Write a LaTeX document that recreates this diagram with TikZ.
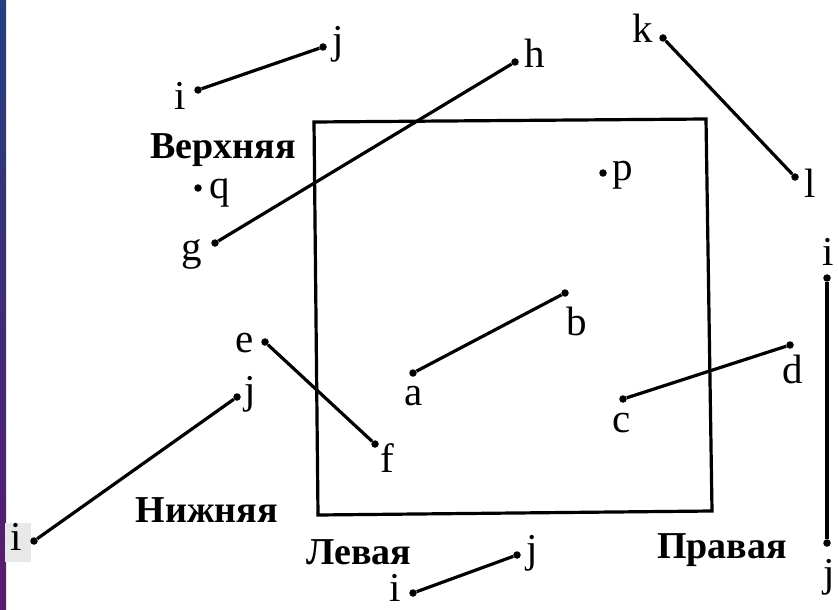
\documentclass[tikz,border=0pt]{standalone}
\usepackage{fontspec}
\setmainfont{Liberation Serif}
\usepackage{tikz}
\definecolor{slideA}{HTML}{23407F}
\definecolor{slideB}{HTML}{1E2260}
\definecolor{slideC}{HTML}{5B1A6E}
\begin{document}
\begin{tikzpicture}[x=1pt,y=-1pt,
  pnt/.style={circle,fill=black,inner sep=0,minimum size=7.5pt},
  seg/.style={line width=3.2pt},
  lbl/.style={anchor=base,inner sep=0,font=\fontsize{41}{41}\selectfont},
  word/.style={anchor=base,inner sep=0,font=\fontsize{38}{38}\selectfont\bfseries}]
  \useasboundingbox (0,0) rectangle (838,610);
  \shade[top color=slideA,middle color=slideB,bottom color=slideC] (0,0) rectangle (6,610);
  \fill[gray!18] (5,523) rectangle (31,562);
  % the window
  \draw[line width=3.2pt,line join=miter] (314,122) -- (706,119) -- (712,511) -- (318,515) -- cycle;
  % end points
  \node[pnt] (i1) at (198,90) {};
  \node[pnt] (j1) at (323,47) {};
  \node[pnt] (g) at (215,243) {};
  \node[pnt] (h) at (515,62) {};
  \node[pnt] (q) at (198,188) {};
  \node[pnt] (p) at (603,173) {};
  \node[pnt] (k) at (663,38) {};
  \node[pnt] (l) at (795,177) {};
  \node[pnt] (i4) at (827,278) {};
  \node[pnt] (j4) at (827,543) {};
  \node[pnt] (a) at (413,373) {};
  \node[pnt] (b) at (565,293) {};
  \node[pnt] (c) at (623,399) {};
  \node[pnt] (d) at (790,345) {};
  \node[pnt] (e) at (265,342) {};
  \node[pnt] (f) at (375,444) {};
  \node[pnt] (j2) at (237,397) {};
  \node[pnt] (i2) at (34,541) {};
  \node[pnt] (i3) at (413,593) {};
  \node[pnt] (j3) at (517,555) {};
  % segments
  \draw[seg] (i1) -- (j1);
  \draw[seg] (g) -- (h);
  \draw[seg] (k) -- (l);
  \draw[seg] (i4) -- (j4);
  \draw[seg] (a) -- (b);
  \draw[seg] (c) -- (d);
  \draw[seg] (e) -- (f);
  \draw[seg] (i2) -- (j2);
  \draw[seg] (i3) -- (j3);
  % letters
  \node[lbl] (li1) at (180,110) {i};
  \node[lbl] (lj1) at (338,54) {j};
  \node[lbl] (lg) at (192,260) {g};
  \node[lbl] (lh) at (535,68) {h};
  \node[lbl] (lq) at (220,198) {q};
  \node[lbl] (lp) at (623,180) {p};
  \node[lbl] (lk) at (643,43) {k};
  \node[lbl] (ll) at (810,197) {l};
  \node[lbl] (li4) at (828,265) {i};
  \node[lbl] (lj4) at (829,586) {j};
  \node[lbl] (la) at (414,405) {a};
  \node[lbl] (lb) at (577,335) {b};
  \node[lbl] (lc) at (622,432) {c};
  \node[lbl] (ld) at (793,383) {d};
  \node[lbl] (le) at (245,352) {e};
  \node[lbl] (lf) at (387,472) {f};
  \node[lbl] (lj2) at (250,403) {j};
  \node[lbl] (li2) at (16,550) {i};
  \node[lbl] (li3) at (395,601) {i};
  \node[lbl] (lj3) at (532,562) {j};
  % side names
  \node[word] (top) at (223,158) {Верхняя};
  \node[word] (bottom) at (207,522) {Нижняя};
  \node[word] (left) at (359,564) {Левая};
  \node[word] (right) at (722,558) {Правая};
\end{tikzpicture}
\end{document}
